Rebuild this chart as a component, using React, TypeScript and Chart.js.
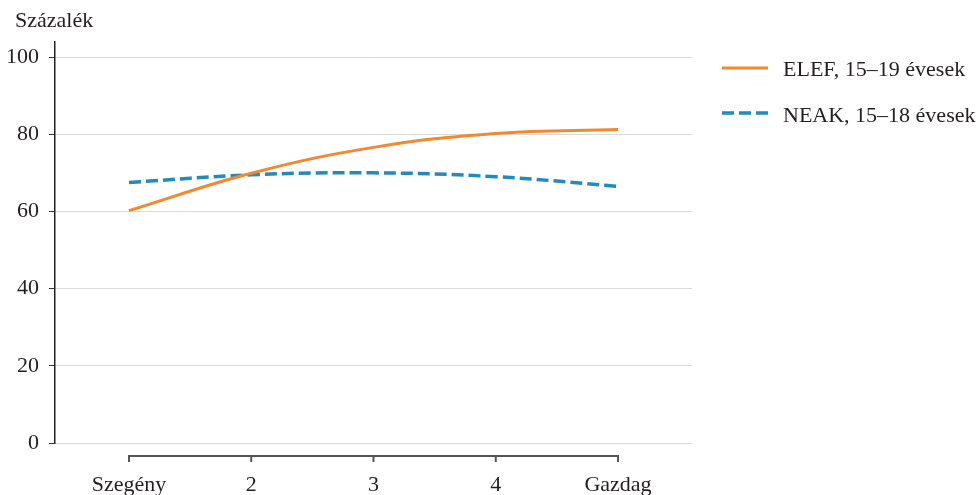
import React, { useEffect, useRef } from 'react';
import { Chart, registerables } from 'chart.js';

Chart.register(...registerables);

const CATEGORIES = ['Szegény', '2', '3', '4', 'Gazdag'];
const ELEF = [60.2, 69.9, 76.6, 80.2, 81.2];
const NEAK = [67.5, 69.5, 70.0, 69.0, 66.5];
const Y_TICKS = [0, 20, 40, 60, 80, 100];
const SERIES_LABELS = ['ELEF, 15–19 évesek', 'NEAK, 15–18 évesek'];
const Y_TITLE = 'Százalék';

const ORANGE = '#F5872F';
const BLUE = '#1F8BC0';
const FONT = "'Liberation Serif', 'Times New Roman', serif";
const TEXT = '#231F20';
const FONT_SIZE = 22;
const DASH = [12, 5];

const decorPlugin = {
  id: 'decor',
  afterDraw(chart: any) {
    const { ctx, chartArea, scales } = chart;
    const xs = scales.x;
    ctx.save();
    // x-axis bracket below the plot
    const first = xs.getPixelForValue(1);
    const last = xs.getPixelForValue(CATEGORIES.length);
    const yb = chartArea.bottom + 13;
    ctx.strokeStyle = '#555555';
    ctx.lineWidth = 2;
    ctx.lineCap = 'butt';
    ctx.beginPath();
    ctx.moveTo(first - 1, yb);
    ctx.lineTo(last + 1, yb);
    ctx.stroke();
    for (let i = 1; i <= CATEGORIES.length; i++) {
      const px = xs.getPixelForValue(i);
      ctx.beginPath();
      ctx.moveTo(px, yb);
      ctx.lineTo(px, yb + 6);
      ctx.stroke();
    }
    // y-axis title
    ctx.font = `${FONT_SIZE}px ${FONT}`;
    ctx.fillStyle = TEXT;
    ctx.textAlign = 'left';
    ctx.textBaseline = 'alphabetic';
    ctx.fillText(Y_TITLE, 15, 27);
    // legend
    const colors = [ORANGE, BLUE];
    const widths = [3, 3.5];
    const dashes = [[], DASH];
    const lx = chartArea.right + 30;
    const items = [
      { lineY: chartArea.top + 26, textY: chartArea.top + 34 },
      { lineY: chartArea.top + 71, textY: chartArea.top + 80 },
    ];
    items.forEach((it, i) => {
      ctx.strokeStyle = colors[i];
      ctx.lineWidth = widths[i];
      ctx.setLineDash(dashes[i]);
      ctx.beginPath();
      ctx.moveTo(lx, it.lineY);
      ctx.lineTo(lx + 46, it.lineY);
      ctx.stroke();
      ctx.setLineDash([]);
      ctx.fillStyle = TEXT;
      ctx.fillText(SERIES_LABELS[i], chartArea.right + 91, it.textY);
    });
    ctx.restore();
  },
};

export default function App() {
  const ref = useRef<HTMLCanvasElement | null>(null);

  useEffect(() => {
    if (!ref.current) return;
    const chart = new Chart(ref.current, {
      type: 'line',
      data: {
        datasets: [
          {
            label: SERIES_LABELS[0],
            data: ELEF.map((v, i) => ({ x: i + 1, y: v })),
            borderColor: ORANGE,
            borderWidth: 3,
            borderCapStyle: 'butt',
            fill: false,
            pointRadius: 0,
            tension: 0.4,
          },
          {
            label: SERIES_LABELS[1],
            data: NEAK.map((v, i) => ({ x: i + 1, y: v })),
            borderColor: BLUE,
            borderWidth: 3.5,
            borderDash: DASH,
            borderCapStyle: 'butt',
            fill: false,
            pointRadius: 0,
            tension: 0.4,
          },
        ],
      },
      options: {
        responsive: false,
        animation: false,
        events: [],
        layout: { padding: { top: 42, right: 285, left: 0, bottom: 0 } },
        plugins: {
          legend: { display: false },
          tooltip: { enabled: false },
          title: { display: false },
        },
        scales: {
          x: {
            type: 'linear',
            min: 0.395,
            max: 5.605,
            afterBuildTicks: (s: any) => {
              s.ticks = CATEGORIES.map((_, i) => ({ value: i + 1 }));
            },
            afterFit: (s: any) => {
              s.height = 52;
            },
            ticks: {
              callback: (v: any) => CATEGORIES[Math.round(Number(v)) - 1],
              padding: 29,
              autoSkip: false,
              maxRotation: 0,
              color: TEXT,
              font: { family: FONT, size: FONT_SIZE },
            },
            grid: { display: false, drawTicks: false },
            border: { display: false },
          },
          y: {
            min: 0,
            max: 103.9,
            afterBuildTicks: (s: any) => {
              s.ticks = Y_TICKS.map((v) => ({ value: v }));
            },
            afterFit: (s: any) => {
              s.width = 55;
            },
            ticks: {
              padding: 10,
              color: TEXT,
              font: { family: FONT, size: FONT_SIZE },
            },
            grid: {
              color: '#d9d9d9',
              lineWidth: 1,
              tickColor: '#333333',
              tickLength: 6,
              tickWidth: 1,
            },
            border: { color: '#222222', width: 1.5 },
          },
        },
      } as any,
      plugins: [decorPlugin],
    });
    return () => chart.destroy();
  }, []);

  return (
    <div style={{ position: 'fixed', top: 0, left: 0, width: 977, height: 495, background: '#fff' }}>
      <canvas ref={ref} width={977} height={495} style={{ display: 'block' }} />
    </div>
  );
}
